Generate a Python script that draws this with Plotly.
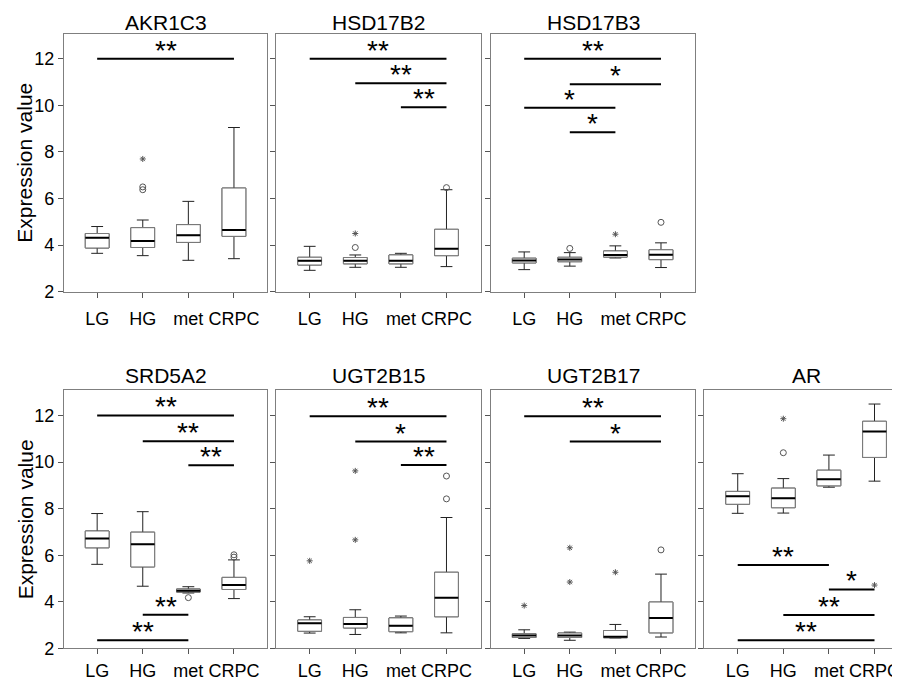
import plotly.graph_objects as go

categories = ["LG", "HG", "met", "CRPC"]
panel_titles = ["AKR1C3", "HSD17B2", "HSD17B3", "SRD5A2", "UGT2B15", "UGT2B17", "AR"]
y_ticks = [2, 4, 6, 8, 10, 12]

# box statistics per gene: lower whisker, q1, median, q3, upper whisker (LG, HG, met, CRPC)
AKR1C3 = dict(lower=[3.65, 3.55, 3.35, 3.42], q1=[3.88, 3.9, 4.12, 4.38], median=[4.32, 4.18, 4.43, 4.65],
              q3=[4.5, 4.75, 4.88, 6.45], upper=[4.8, 5.08, 5.88, 9.05])
HSD17B2 = dict(lower=[2.92, 3.05, 3.05, 3.08], q1=[3.15, 3.2, 3.2, 3.55], median=[3.33, 3.33, 3.33, 3.85],
               q3=[3.48, 3.47, 3.58, 4.68], upper=[3.95, 3.58, 3.65, 6.38])
HSD17B3 = dict(lower=[2.95, 3.1, 3.45, 3.04], q1=[3.24, 3.29, 3.49, 3.38], median=[3.34, 3.39, 3.58, 3.59],
               q3=[3.44, 3.48, 3.75, 3.8], upper=[3.71, 3.68, 3.97, 4.1])
SRD5A2 = dict(lower=[5.61, 4.67, 4.38, 4.14], q1=[6.32, 5.5, 4.42, 4.53], median=[6.72, 6.47, 4.48, 4.72],
              q3=[7.04, 6.99, 4.55, 5.05], upper=[7.79, 7.87, 4.65, 5.8])
UGT2B15 = dict(lower=[2.66, 2.6, 2.67, 2.67], q1=[2.74, 2.88, 2.72, 3.36], median=[3.08, 3.05, 2.97, 4.18],
               q3=[3.22, 3.33, 3.31, 5.27], upper=[3.36, 3.66, 3.39, 7.62])
UGT2B17 = dict(lower=[2.43, 2.35, 2.45, 2.49], q1=[2.47, 2.47, 2.46, 2.67], median=[2.56, 2.55, 2.5, 3.31],
               q3=[2.63, 2.66, 2.77, 3.99], upper=[2.8, 2.7, 3.03, 5.19])
AR = dict(lower=[7.8, 7.81, 8.92, 9.18], q1=[8.19, 8.04, 8.98, 10.2], median=[8.53, 8.45, 9.26, 11.31],
          q3=[8.74, 8.88, 9.65, 11.75], upper=[9.5, 9.29, 10.3, 12.49])

# outliers: (category, value)
AKR1C3_circles = [("HG", 6.38), ("HG", 6.5)]
AKR1C3_stars = [("HG", 7.7)]
HSD17B2_circles = [("HG", 3.9), ("CRPC", 6.47)]
HSD17B2_stars = [("HG", 4.5)]
HSD17B3_circles = [("HG", 3.86), ("CRPC", 4.98)]
HSD17B3_stars = [("met", 4.47)]
SRD5A2_circles = [("met", 4.18), ("CRPC", 5.92), ("CRPC", 6.02)]
SRD5A2_stars = []
UGT2B15_circles = [("CRPC", 8.42), ("CRPC", 9.4)]
UGT2B15_stars = [("LG", 5.76), ("HG", 6.66), ("HG", 9.62)]
UGT2B17_circles = [("CRPC", 6.23)]
UGT2B17_stars = [("LG", 3.84), ("HG", 4.85), ("HG", 6.32), ("met", 5.27)]
AR_circles = [("HG", 10.4)]
AR_stars = [("HG", 11.86), ("CRPC", 4.72)]

# significance bars: (from, to, y, label)
AKR1C3_sig = [("LG", "CRPC", 12.0, "**")]
HSD17B2_sig = [("LG", "CRPC", 12.0, "**"), ("HG", "CRPC", 10.95, "**"), ("met", "CRPC", 9.92, "**")]
HSD17B3_sig = [("LG", "CRPC", 12.0, "**"), ("HG", "CRPC", 10.91, "*"), ("LG", "met", 9.9, "*"),
               ("HG", "met", 8.85, "*")]
SRD5A2_sig = [("LG", "CRPC", 12.0, "**"), ("HG", "CRPC", 10.89, "**"), ("met", "CRPC", 9.86, "**"),
              ("HG", "met", 3.45, "**"), ("LG", "met", 2.35, "**")]
UGT2B15_sig = [("LG", "CRPC", 11.97, "**"), ("HG", "CRPC", 10.88, "*"), ("met", "CRPC", 9.87, "**")]
UGT2B17_sig = [("LG", "CRPC", 11.97, "**"), ("HG", "CRPC", 10.88, "*")]
AR_sig = [("LG", "met", 5.58, "**"), ("met", "CRPC", 4.53, "*"), ("HG", "CRPC", 3.43, "**"),
          ("LG", "CRPC", 2.35, "**")]

stats = [AKR1C3, HSD17B2, HSD17B3, SRD5A2, UGT2B15, UGT2B17, AR]
circles = [AKR1C3_circles, HSD17B2_circles, HSD17B3_circles, SRD5A2_circles, UGT2B15_circles,
           UGT2B17_circles, AR_circles]
stars = [AKR1C3_stars, HSD17B2_stars, HSD17B3_stars, SRD5A2_stars, UGT2B15_stars, UGT2B17_stars, AR_stars]
sigs = [AKR1C3_sig, HSD17B2_sig, HSD17B3_sig, SRD5A2_sig, UGT2B15_sig, UGT2B17_sig, AR_sig]

# the page body has an 8px margin, so the figure is laid out in shifted coordinates
OFF = 8
W, H = 900 - OFF, 688 - OFF
FONT = "Liberation Sans, Arial, sans-serif"
# panel pixel boxes in page coordinates (left, right, top, bottom)
panels_px = [(64, 268, 34, 296), (277, 482, 34, 296), (492, 697, 34, 296),
             (64, 268, 396, 658), (277, 482, 396, 658), (492, 697, 396, 658), (706, 900, 396, 658)]
title_center_px = [23, 23, 23, 381, 381, 381, 381]
label_standoff = [6, 6, 6, 1, 1, 1, 1]
UNIT = 45.7
BOXW = 0.52


def px_x(p):
    return (p - OFF) / W


def px_y(p):
    return 1 - (p - OFF) / H


fig = go.Figure()
pos = {c: i for i, c in enumerate(categories)}
xs = list(range(len(categories)))

for k, (st, gname) in enumerate(zip(stats, panel_titles)):
    xa = "x" if k == 0 else f"x{k+1}"
    ya = "y" if k == 0 else f"y{k+1}"
    # full box with whiskers (dark)
    fig.add_trace(go.Box(x=xs, q1=st["q1"], median=st["median"], q3=st["q3"],
                         lowerfence=st["lower"], upperfence=st["upper"],
                         width=BOXW, whiskerwidth=0.5, boxpoints=False,
                         line=dict(color="#222222", width=1), fillcolor="white",
                         xaxis=xa, yaxis=ya, showlegend=False, hoverinfo="skip"))
    # box body in gray on top
    fig.add_trace(go.Box(x=xs, q1=st["q1"], median=st["median"], q3=st["q3"],
                         lowerfence=st["q1"], upperfence=st["q3"],
                         width=BOXW, whiskerwidth=0, boxpoints=False,
                         line=dict(color="#7a7a7a", width=1), fillcolor="white",
                         xaxis=xa, yaxis=ya, showlegend=False, hoverinfo="skip"))
    # medians
    mx, my = [], []
    for i, m in enumerate(st["median"]):
        mx += [i - BOXW / 2, i + BOXW / 2, None]
        my += [m, m, None]
    fig.add_trace(go.Scatter(x=mx, y=my, mode="lines", line=dict(color="black", width=2),
                             xaxis=xa, yaxis=ya, showlegend=False, hoverinfo="skip"))
    # outliers
    if circles[k]:
        fig.add_trace(go.Scatter(x=[pos[c] for c, v in circles[k]], y=[v for c, v in circles[k]],
                                 mode="markers", marker=dict(symbol="circle-open", size=6,
                                                             color="#555555", line=dict(width=1)),
                                 xaxis=xa, yaxis=ya, showlegend=False, hoverinfo="skip"))
    if stars[k]:
        fig.add_trace(go.Scatter(x=[pos[c] for c, v in stars[k]], y=[v for c, v in stars[k]],
                                 mode="markers", marker=dict(symbol="asterisk-open", size=5,
                                                             color="#555555", line=dict(width=1)),
                                 xaxis=xa, yaxis=ya, showlegend=False, hoverinfo="skip"))
    # significance bars
    for a, b, yv, lab in sigs[k]:
        fig.add_trace(go.Scatter(x=[pos[a], pos[b]], y=[yv, yv], mode="lines",
                                 line=dict(color="black", width=2),
                                 xaxis=xa, yaxis=ya, showlegend=False, hoverinfo="skip"))
        fig.add_annotation(x=(pos[a] + pos[b]) / 2, y=yv, xref=xa, yref=ya, text=lab,
                           showarrow=False, xanchor="center", yanchor="bottom", yshift=-9,
                           font=dict(family=FONT, size=28, color="black"))

    l, r, t, b = panels_px[k]
    xr = [-0.73, -0.73 + (r - l) / UNIT]
    fig.layout[("xaxis" if k == 0 else f"xaxis{k+1}")] = dict(
        domain=[px_x(l), min(1.0, px_x(r))], anchor=ya, range=xr, tickmode="array", tickvals=xs,
        ticktext=categories, ticks="outside", ticklen=5, tickcolor="#555555",
        showline=True, linecolor="#7f7f7f", linewidth=1, mirror=True, showgrid=False,
        zeroline=False, ticklabelstandoff=label_standoff[k], ticklabeloverflow="allow",
        tickfont=dict(family=FONT, size=18, color="black"), fixedrange=True)
    fig.layout[("yaxis" if k == 0 else f"yaxis{k+1}")] = dict(
        domain=[px_y(b), px_y(t)], anchor=xa, range=[2, 13.08], tickmode="array",
        tickvals=y_ticks, ticks="outside", ticklen=5, tickcolor="#555555",
        showticklabels=(k in (0, 3)), showline=True, linecolor="#7f7f7f", linewidth=1,
        mirror=(k != 6), showgrid=False, zeroline=False,
        tickfont=dict(family=FONT, size=18, color="black"), fixedrange=True)
    # panel title
    cx = (l + r) / 2 if k != 6 else (706 + 911) / 2
    fig.add_annotation(x=px_x(cx), y=px_y(title_center_px[k]),
                       xref="paper", yref="paper", text=gname, showarrow=False,
                       xanchor="center", yanchor="middle",
                       font=dict(family=FONT, size=21, color="black"))

for k in (0, 3):
    l, r, t, b = panels_px[k]
    fig.add_annotation(x=px_x(25), y=px_y((t + b) / 2), xref="paper", yref="paper",
                       text="Expression value", textangle=-90, showarrow=False,
                       xanchor="center", yanchor="middle",
                       font=dict(family=FONT, size=21, color="black"))

fig.update_layout(width=W, height=H, margin=dict(l=0, r=0, t=0, b=0),
                  paper_bgcolor="white", plot_bgcolor="white", boxmode="overlay",
                  showlegend=False)

fig.write_html("out.html")
